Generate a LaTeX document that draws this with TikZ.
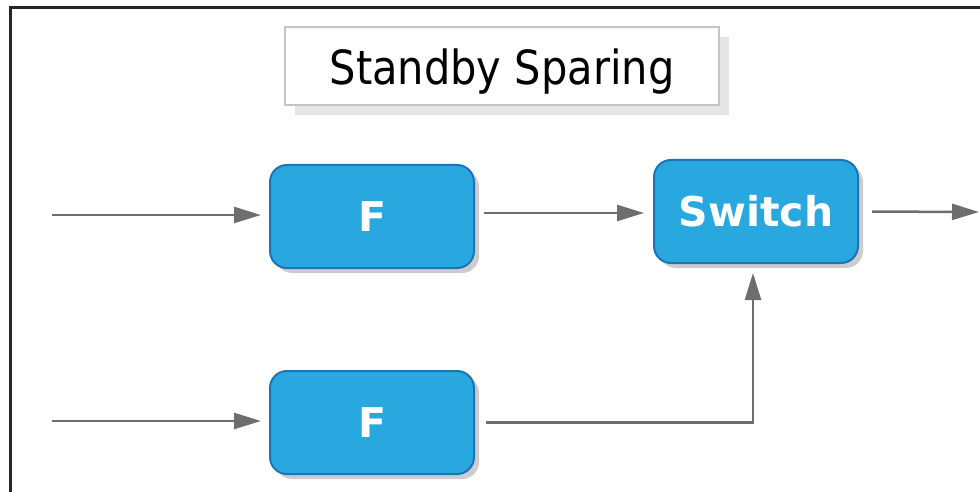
\documentclass[tikz,border=0pt]{standalone}
\usepackage{fontspec}
\setmainfont{DejaVu Sans}
\usetikzlibrary{arrows.meta,shadows}
\definecolor{blockblue}{HTML}{29A8E0}
\definecolor{blockedge}{HTML}{1F72B6}
\definecolor{wiregray}{HTML}{6E6E6E}

\begin{document}
\begin{tikzpicture}[x=1pt,y=-1pt,
  >={Triangle[length=27pt,width=16pt]},
  block/.style={draw=blockedge,line width=2pt,fill=blockblue,rounded corners=17pt,minimum width=204pt,minimum height=103pt,text=white,font=\fontsize{41}{48}\selectfont\bfseries,drop shadow={shadow xshift=5pt,shadow yshift=-5pt,fill=black!20,opacity=1}},
  wire/.style={draw=wiregray,line width=2.5pt,->}]
\useasboundingbox (0,0) rectangle (980,492);
\draw[line width=3pt,black!85] (10,8) rectangle (1010,520);
% title
\node[draw=black!23,line width=2.5pt,fill=white,minimum width=434pt,minimum height=78pt,text height=38pt,text depth=0pt,font=\fontsize{42}{48}\selectfont,drop shadow={shadow xshift=10pt,shadow yshift=-10pt,fill=black!10,opacity=1}] (ttl) at (502,66) {\scalebox{0.99}[1.12]{Standby Sparing}};
% blocks
\node[block] (f1) at (372,216.5) {F};
\node[block] (f2) at (372,422.5) {F};
\node[block] (sw) at (756,211.5) {Switch};
\coordinate (in1) at (52,215);
\coordinate (in2) at (52,421);
\coordinate (out) at (979,212);
\draw[wire,shorten >=8pt] (in1) -- (in1 -| f1.west);
\draw[wire,shorten >=8pt] (in2) -- (in2 -| f2.west);
\draw[wire,shorten <=9pt,shorten >=9pt] (f1.east |- 0,213) -- (sw.west |- 0,213);
\draw[wire,shorten <=13pt] (sw.east) -- (out);
\draw[wire,shorten <=11pt,shorten >=9pt] (f2.east) -| ([xshift=-3pt]sw.south);
\end{tikzpicture}
\end{document}
